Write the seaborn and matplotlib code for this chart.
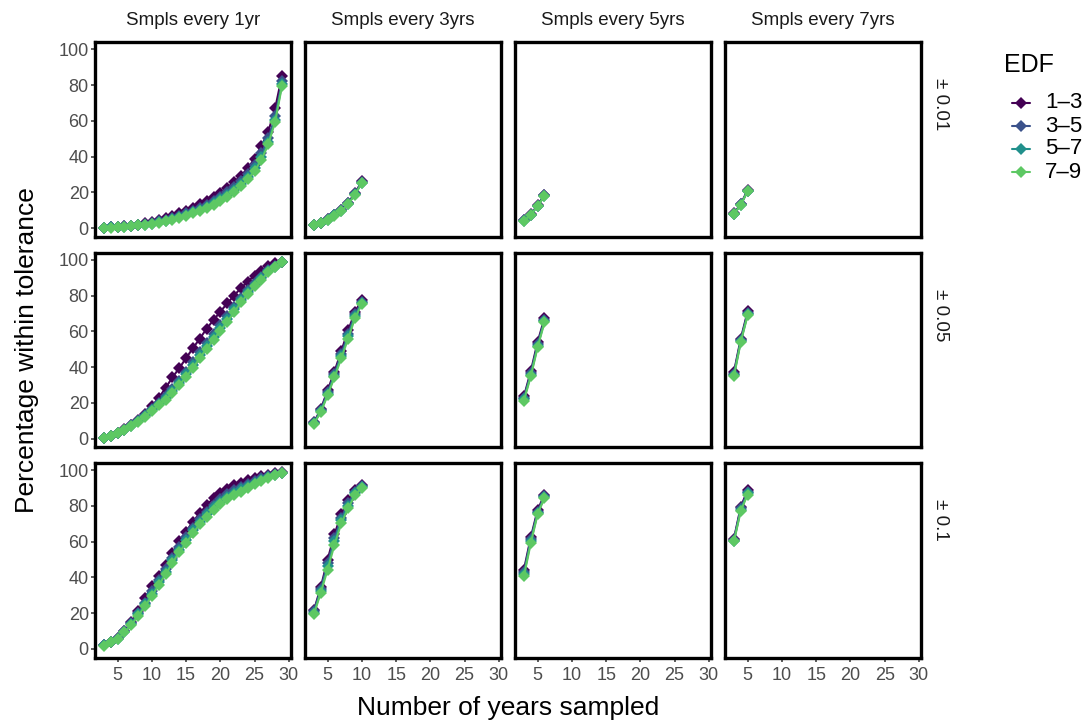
import matplotlib
matplotlib.use("Agg")
import matplotlib.pyplot as plt
from matplotlib.lines import Line2D
import pandas as pd
import seaborn as sns

# Facet levels
edf_levels = ["1–3", "3–5", "5–7", "7–9"]
edf_colors = ["#440154", "#3B528B", "#21908C", "#5DC863"]
intervals = ["Smpls every 1yr", "Smpls every 3yrs", "Smpls every 5yrs", "Smpls every 7yrs"]
tolerances = ["± 0.01", "± 0.05", "± 0.1"]

# Number of years sampled for each sampling interval
years_every1 = list(range(3, 30))
years_every3 = list(range(3, 11))
years_every5 = [3, 4, 5, 6]
years_every7 = [3, 4, 5]

# Percentage of estimates within tolerance, keyed by EDF class
# --- tolerance ± 0.01 ---
tol001_every1 = {
    "1–3": [0.3, 0.5, 0.7, 1.0, 1.3, 1.8, 2.6, 3.5, 4.6, 5.7, 7.0, 8.3, 9.7, 11.4, 13.2, 15.0, 17.3, 19.8, 22.6, 25.7, 29.4, 33.4, 38.9, 45.9, 54.0, 67.0, 85.3],
    "3–5": [0.3, 0.4, 0.6, 0.9, 1.2, 1.6, 2.2, 2.9, 3.7, 4.7, 5.8, 6.9, 8.3, 9.8, 11.3, 13.0, 15.0, 17.3, 20.0, 22.8, 26.2, 30.2, 35.2, 41.8, 50.3, 62.5, 82.0],
    "5–7": [0.2, 0.4, 0.5, 0.8, 1.1, 1.5, 2.0, 2.5, 3.2, 4.1, 5.1, 6.1, 7.5, 8.9, 10.3, 11.9, 13.8, 16.0, 18.6, 21.3, 24.6, 28.5, 33.4, 39.8, 48.2, 60.7, 80.5],
    "7–9": [0.2, 0.3, 0.5, 0.7, 1.0, 1.5, 1.8, 2.2, 2.8, 3.7, 4.6, 5.5, 7.0, 8.3, 9.6, 11.0, 12.9, 15.2, 17.6, 20.3, 23.5, 27.3, 32.0, 38.2, 46.8, 59.5, 79.5],
}
tol001_every3 = {
    "1–3": [1.7, 3.1, 5.0, 7.5, 10.3, 14.2, 19.6, 26.2],
    "3–5": [1.6, 3.0, 4.9, 7.3, 10.0, 13.9, 19.2, 25.8],
    "5–7": [1.6, 2.9, 4.7, 7.1, 9.8, 13.6, 18.9, 25.5],
    "7–9": [1.5, 2.8, 4.6, 7.0, 9.6, 13.4, 18.7, 25.3],
}
tol001_every5 = {
    "1–3": [4.4, 7.8, 12.8, 18.6],
    "3–5": [4.3, 7.6, 12.6, 18.3],
    "5–7": [4.2, 7.5, 12.4, 18.1],
    "7–9": [4.1, 7.4, 12.3, 18.0],
}
tol001_every7 = {
    "1–3": [8.3, 13.4, 21.3],
    "3–5": [8.1, 13.2, 21.0],
    "5–7": [8.0, 13.0, 20.8],
    "7–9": [7.9, 12.9, 20.7],
}

# --- tolerance ± 0.05 ---
tol005_every1 = {
    "1–3": [0.5, 1.5, 3.0, 5.2, 7.8, 10.5, 13.8, 18.0, 22.7, 28.3, 34.2, 39.4, 45.0, 50.6, 55.9, 61.5, 66.3, 71.0, 75.6, 80.0, 84.2, 87.8, 91.2, 93.9, 96.3, 98.0, 98.8],
    "3–5": [0.5, 1.5, 3.0, 5.0, 7.4, 10.0, 13.0, 16.4, 20.0, 23.6, 27.8, 32.3, 37.4, 42.6, 48.2, 53.6, 58.6, 63.6, 68.3, 73.6, 78.6, 83.0, 87.0, 90.4, 94.0, 96.6, 98.6],
    "5–7": [0.4, 1.5, 3.0, 4.9, 7.2, 9.8, 12.7, 16.0, 19.4, 22.8, 26.7, 31.1, 36.0, 41.0, 46.6, 52.0, 57.0, 62.0, 66.7, 72.2, 77.4, 82.0, 86.1, 89.6, 93.5, 96.2, 98.6],
    "7–9": [0.4, 1.5, 3.0, 4.8, 7.0, 9.5, 12.3, 15.5, 18.8, 21.8, 25.5, 29.8, 34.5, 39.4, 45.0, 50.3, 55.3, 60.3, 65.1, 70.7, 76.1, 80.8, 85.1, 88.8, 92.9, 95.9, 98.5],
}
tol005_every3 = {
    "1–3": [9.0, 16.5, 27.0, 37.5, 49.0, 60.5, 71.0, 77.5],
    "3–5": [8.8, 15.8, 25.8, 36.2, 47.4, 58.6, 69.6, 76.6],
    "5–7": [8.6, 15.2, 25.0, 35.2, 46.2, 57.2, 68.5, 75.9],
    "7–9": [8.4, 14.7, 24.2, 34.2, 45.0, 55.9, 67.4, 75.2],
}
tol005_every5 = {
    "1–3": [23.6, 37.6, 54.0, 67.4],
    "3–5": [22.8, 36.4, 52.8, 66.4],
    "5–7": [22.0, 35.6, 51.8, 65.6],
    "7–9": [21.2, 34.8, 51.0, 65.0],
}
tol005_every7 = {
    "1–3": [37.2, 55.9, 71.1],
    "3–5": [36.3, 55.0, 70.2],
    "5–7": [35.5, 54.5, 69.5],
    "7–9": [34.8, 54.0, 68.9],
}

# --- tolerance ± 0.1 ---
tol01_every1 = {
    "1–3": [2.2, 3.9, 6.2, 10.2, 15.0, 21.5, 28.7, 35.0, 41.0, 47.2, 53.5, 60.2, 65.7, 71.3, 76.0, 80.6, 84.3, 87.2, 89.6, 91.5, 93.1, 94.5, 95.8, 96.8, 97.6, 98.3, 98.8],
    "3–5": [2.1, 3.8, 6.0, 9.8, 14.4, 20.0, 26.0, 32.4, 38.6, 44.6, 51.0, 57.0, 62.4, 67.8, 72.6, 76.8, 80.6, 83.8, 86.6, 88.7, 90.6, 92.4, 94.0, 95.4, 96.6, 97.7, 98.6],
    "5–7": [2.0, 3.8, 5.8, 9.6, 14.0, 19.3, 25.0, 31.0, 37.2, 43.2, 49.6, 55.6, 60.8, 66.3, 71.2, 75.5, 79.2, 82.3, 85.2, 87.4, 89.3, 91.3, 93.1, 94.7, 96.2, 97.4, 98.5],
    "7–9": [1.9, 3.7, 5.6, 9.3, 13.5, 18.5, 24.0, 29.6, 35.7, 41.7, 48.1, 54.2, 59.2, 64.8, 69.8, 74.1, 77.8, 80.9, 83.9, 86.1, 88.0, 90.2, 92.2, 94.1, 95.9, 97.2, 98.5],
}
tol01_every3 = {
    "1–3": [21.7, 34.6, 50.0, 64.2, 75.3, 83.3, 88.9, 92.0],
    "3–5": [21.0, 33.5, 48.0, 62.0, 73.5, 81.8, 87.8, 91.4],
    "5–7": [20.2, 32.5, 46.2, 60.2, 71.9, 80.2, 87.0, 90.8],
    "7–9": [19.4, 31.5, 44.4, 58.3, 70.3, 78.7, 86.1, 90.2],
}
tol01_every5 = {
    "1–3": [44.4, 62.4, 77.8, 86.4],
    "3–5": [43.0, 61.3, 76.8, 85.7],
    "5–7": [41.8, 60.2, 76.0, 85.1],
    "7–9": [40.7, 59.2, 75.3, 84.6],
}
tol01_every7 = {
    "1–3": [61.7, 79.6, 88.9],
    "3–5": [61.1, 78.7, 88.0],
    "5–7": [60.6, 77.9, 87.2],
    "7–9": [60.2, 77.2, 86.4],
}

years_by_interval = [years_every1, years_every3, years_every5, years_every7]
panels = [
    [tol001_every1, tol001_every3, tol001_every5, tol001_every7],
    [tol005_every1, tol005_every3, tol005_every5, tol005_every7],
    [tol01_every1, tol01_every3, tol01_every5, tol01_every7],
]

# Long-format table for seaborn
rows = []
for r, tol in enumerate(tolerances):
    for c, interval in enumerate(intervals):
        for edf in edf_levels:
            for yr, pct in zip(years_by_interval[c], panels[r][c][edf]):
                rows.append({"tolerance": tol, "interval": interval, "EDF": edf,
                             "years": yr, "pct": pct})
df = pd.DataFrame(rows)

sns.set_theme(style="white")
plt.rcParams["font.family"] = ["Liberation Sans", "DejaVu Sans"]

W, H = 1086, 727
fig = plt.figure(figsize=(W / 100, H / 100), dpi=100)
axes = fig.subplots(
    3, 4, sharex=True, sharey=True,
    gridspec_kw=dict(left=0.0875, right=0.848, top=0.942, bottom=0.095,
                     wspace=0.072, hspace=0.08),
)

palette = dict(zip(edf_levels, edf_colors))

for r, tol in enumerate(tolerances):
    for c, interval in enumerate(intervals):
        ax = axes[r, c]
        sub = df[(df["tolerance"] == tol) & (df["interval"] == interval)]
        sns.lineplot(
            data=sub, x="years", y="pct", hue="EDF", hue_order=edf_levels,
            palette=palette, marker="D", markersize=6.5, markeredgewidth=0,
            linewidth=1.5, legend=False, ax=ax, sort=True,
        )
        ax.set_xlim(1.7, 30.3)
        ax.set_ylim(-5, 104)
        ax.set_xticks([5, 10, 15, 20, 25, 30])
        ax.set_yticks([0, 20, 40, 60, 80, 100])
        ax.set_xlabel("")
        ax.set_ylabel("")
        for sp in ax.spines.values():
            sp.set_visible(True)
            sp.set_color("black")
            sp.set_linewidth(2.4)
        ax.tick_params(direction="out", length=3, width=1.1, color="#333333",
                       labelcolor="#4D4D4D", labelsize=13)
        ax.tick_params(axis="y", pad=1.5, left=(c == 0), labelleft=(c == 0))
        ax.tick_params(axis="x", pad=3.5, bottom=(r == 2), labelbottom=(r == 2))
        if r == 0:
            ax.set_title(interval, fontsize=13.5, color="#1A1A1A", pad=12)
        if c == 3:
            # row label sits in the upper part of the strip
            bb = ax.get_position()
            fig.text(940 / W, bb.y1 - 36 / H, tol, rotation=270,
                     ha="center", va="top", fontsize=13.5, color="#1A1A1A")

fig.text(0.4678, 0.026, "Number of years sampled", ha="center", va="center",
         fontsize=19, color="black")
fig.text(0.025, 0.518, "Percentage within tolerance", ha="center", va="center",
         rotation=90, fontsize=19, color="black")

# Legend drawn in figure coordinates
fig.text(1004 / W, 1 - 65 / H, "EDF", ha="left", va="center", fontsize=18,
         color="black")
for i, (lab, col) in enumerate(zip(edf_levels, edf_colors)):
    yc = 1 - (103 + i * 23) / H
    fig.add_artist(Line2D([1012 / W, 1030 / W], [yc, yc], color=col,
                          linewidth=1.5, transform=fig.transFigure))
    fig.add_artist(Line2D([1021 / W], [yc], color=col, marker="D",
                          markersize=6.5, markeredgewidth=0,
                          transform=fig.transFigure))
    fig.text(1045 / W, yc, lab, ha="left", va="center", fontsize=16,
             color="black")

fig.savefig("out.png", dpi=100)
